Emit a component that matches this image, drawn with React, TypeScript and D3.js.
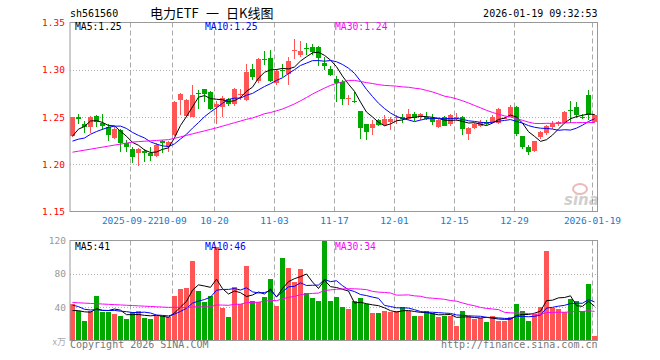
import React from 'react';
import * as d3 from 'd3';

// trading days shown (2025-09-08 .. 2026-01-19)
const dates = [
  '2025-09-08','2025-09-09','2025-09-10','2025-09-11','2025-09-12','2025-09-15','2025-09-16','2025-09-17','2025-09-18','2025-09-19',
  '2025-09-22','2025-09-23','2025-09-24','2025-09-25','2025-09-26','2025-09-29','2025-09-30',
  '2025-10-09','2025-10-10','2025-10-13','2025-10-14','2025-10-15','2025-10-16','2025-10-17','2025-10-20','2025-10-21','2025-10-22',
  '2025-10-23','2025-10-24','2025-10-27','2025-10-28','2025-10-29','2025-10-30','2025-10-31',
  '2025-11-03','2025-11-04','2025-11-05','2025-11-06','2025-11-07','2025-11-10','2025-11-11','2025-11-12','2025-11-13','2025-11-14',
  '2025-11-17','2025-11-18','2025-11-19','2025-11-20','2025-11-21','2025-11-24','2025-11-25','2025-11-26','2025-11-27','2025-11-28',
  '2025-12-01','2025-12-02','2025-12-03','2025-12-04','2025-12-05','2025-12-08','2025-12-09','2025-12-10','2025-12-11','2025-12-12',
  '2025-12-15','2025-12-16','2025-12-17','2025-12-18','2025-12-19','2025-12-22','2025-12-23','2025-12-24','2025-12-25','2025-12-26',
  '2025-12-29','2025-12-30','2025-12-31',
  '2026-01-05','2026-01-06','2026-01-07','2026-01-08','2026-01-09','2026-01-12','2026-01-13','2026-01-14','2026-01-15','2026-01-16','2026-01-19',
];

const openP = [
  1.2297,1.2500,1.2424,1.2396,1.2508,1.2438,1.2396,1.2278,1.2360,1.2220,
  1.2157,1.2121,1.2143,1.2121,1.2086,1.2241,1.2192,1.2311,1.2677,1.2508,
  1.2501,1.2758,1.2793,1.2765,1.2607,1.2607,1.2695,1.2635,1.2730,1.2677,
  1.3012,1.2878,1.3111,1.3128,1.2858,1.2995,1.2950,1.3198,1.3152,1.3225,
  1.3238,1.3236,1.3067,1.3012,1.2906,1.2870,1.2690,1.2674,1.2561,1.2421,
  1.2379,1.2466,1.2413,1.2449,1.2495,1.2505,1.2484,1.2533,1.2498,1.2498,
  1.2490,1.2392,1.2498,1.2424,1.2495,1.2498,1.2315,1.2379,1.2406,1.2448,
  1.2448,1.2440,1.2485,1.2505,1.2607,1.2297,1.2185,1.2138,1.2284,1.2326,
  1.2389,1.2424,1.2438,1.2575,1.2607,1.2505,1.2730,1.2448,
];
const highP = [
  1.2505,1.2537,1.2460,1.2510,1.2520,1.2530,1.2424,1.2396,1.2370,1.2255,
  1.2185,1.2168,1.2157,1.2178,1.2220,1.2255,1.2241,1.2665,1.2758,1.2690,
  1.2835,1.2783,1.2800,1.2775,1.2670,1.2720,1.2705,1.2807,1.2800,1.3060,
  1.3064,1.3125,1.3197,1.3205,1.3010,1.3060,1.3134,1.3321,1.3300,1.3286,
  1.3270,1.3247,1.3134,1.3040,1.2930,1.2890,1.2737,1.2765,1.2561,1.2430,
  1.2466,1.2480,1.2519,1.2500,1.2519,1.2530,1.2582,1.2550,1.2545,1.2554,
  1.2530,1.2480,1.2515,1.2535,1.2547,1.2515,1.2395,1.2440,1.2465,1.2465,
  1.2520,1.2595,1.2500,1.2624,1.2615,1.2300,1.2200,1.2250,1.2350,1.2420,
  1.2460,1.2460,1.2565,1.2667,1.2655,1.2530,1.2783,1.2535,
];
const lowP = [
  1.2290,1.2431,1.2326,1.2326,1.2396,1.2360,1.2248,1.2263,1.2132,1.2132,
  1.2010,1.1985,1.2026,1.2030,1.2080,1.2115,1.2132,1.2300,1.2519,1.2500,
  1.2495,1.2582,1.2659,1.2575,1.2431,1.2500,1.2620,1.2620,1.2677,1.2667,
  1.2888,1.2860,1.3046,1.2870,1.2840,1.2920,1.2843,1.3110,1.3140,1.3152,
  1.3160,1.3039,1.2994,1.2930,1.2659,1.2624,1.2624,1.2650,1.2266,1.2255,
  1.2308,1.2400,1.2400,1.2360,1.2431,1.2440,1.2470,1.2460,1.2470,1.2470,
  1.2420,1.2380,1.2400,1.2410,1.2460,1.2308,1.2255,1.2370,1.2395,1.2420,
  1.2440,1.2430,1.2475,1.2500,1.2300,1.2160,1.2097,1.2130,1.2270,1.2310,
  1.2370,1.2410,1.2430,1.2440,1.2485,1.2480,1.2466,1.2440,
];
const closeP = [
  1.2495,1.2474,1.2390,1.2501,1.2445,1.2403,1.2311,1.2368,1.2220,1.2178,
  1.2079,1.2157,1.2121,1.2086,1.2206,1.2220,1.2234,1.2655,1.2740,1.2677,
  1.2730,1.2745,1.2740,1.2582,1.2642,1.2706,1.2642,1.2793,1.2748,1.2973,
  1.2923,1.3117,1.3103,1.2878,1.2990,1.2983,1.3089,1.3205,1.3194,1.3218,
  1.3187,1.3123,1.3039,1.2948,1.2864,1.2688,1.2698,1.2659,1.2379,1.2337,
  1.2431,1.2413,1.2477,1.2477,1.2502,1.2477,1.2533,1.2490,1.2533,1.2484,
  1.2442,1.2469,1.2406,1.2519,1.2502,1.2371,1.2385,1.2421,1.2442,1.2427,
  1.2500,1.2580,1.2490,1.2607,1.2315,1.2185,1.2125,1.2243,1.2343,1.2403,
  1.2431,1.2448,1.2554,1.2570,1.2519,1.2498,1.2519,1.2526,
];
// volume, 万手
const volume = [
  44,35,23,36,53,34,34,32,29,26,
  34,35,27,26,29,29,28,53,62,63,
  96,60,46,54,112,39,28,64,44,89,
  48,46,52,74,41,99,87,70,86,57,
  51,48,120,47,52,40,38,48,51,44,
  33,33,35,34,36,40,35,29,29,35,
  33,28,30,30,18,35,29,26,27,22,
  30,24,24,28,44,36,24,32,40,107,
  39,38,34,50,48,35,68,5,
];
// sessions before the window, only feeding the moving averages
const priorClose = [
  1.2150,1.2070,1.2180,1.2125,1.2080,1.1990,1.2045,1.1900,1.1855,1.1760,
  1.2000,1.2000,1.1970,1.2080,1.2100,1.2110,1.2250,1.2260,1.2200,1.2250,
  1.2270,1.2270,1.2100,1.2160,1.2166,1.2100,1.2250,1.2210,1.2430,
];
const priorVolume = [
  46,34,47,64,45,45,43,40,37,45,
  46,38,37,40,40,39,50,62,75,71,
  52,55,45,48,44,36,30,38,32,
];

const tickDates = ['2025-09-22','2025-10-09','2025-10-20','2025-11-03','2025-11-17','2025-12-01','2025-12-15','2025-12-29','2026-01-19'];
const tickLabels = ['2025-09-22','10-09','10-20','11-03','11-17','12-01','12-15','12-29','2026-01-19'];
const priceTicks = [1.35, 1.30, 1.25, 1.20, 1.15];
const volTicks = [120, 80, 40];

const RED = '#ff5555';
const GREEN = '#00a800';
const MONO = '"DejaVu Sans Mono", "Liberation Mono", monospace';
const CJK = '"Noto Sans CJK SC", sans-serif';

function movingAvg(prior: number[], vals: number[], n: number) {
  const all = prior.concat(vals);
  const off = prior.length;
  return vals.map((_, i) => d3.mean(all.slice(off + i - n + 1, off + i + 1)) as number);
}

export default function App() {
  const n = closeP.length;
  const left = 70, right = 597.5;
  const x = d3.scaleBand<number>().domain(d3.range(n)).range([70, 597]).paddingInner(1 / 6).paddingOuter(0);
  const cx = (i: number) => (x(i) as number) + 2.5;
  const yP = d3.scaleLinear().domain([1.15, 1.35]).range([211.5, 22.5]);
  const yV = d3.scaleLinear().domain([0, 120]).range([340.5, 240.5]);

  const pMA = [5, 10, 30].map(k => movingAvg(priorClose, closeP, k));
  const vMA = [5, 10, 30].map(k => movingAvg(priorVolume, volume, k));
  const maColors = ['#000000', '#0000ff', '#ff00ff'];

  const lineP = d3.line<number>().x((_, i) => cx(i)).y(d => yP(d));
  const lineV = d3.line<number>().x((_, i) => cx(i)).y(d => yV(d));

  const tickIdx = tickDates.map(d => dates.indexOf(d));
  const last = n - 1;

  return (
    <svg width={660} height={360} style={{ position: 'absolute', left: 0, top: 0, background: '#fff' }}>
      <defs>
        <clipPath id="cp"><rect x={left} y={22.5} width={right - left} height={189} /></clipPath>
        <clipPath id="cv"><rect x={left} y={240.5} width={right - left} height={100} /></clipPath>
      </defs>

      {/* header */}
      <text x={70} y={17} fontFamily={MONO} fontSize={10} fill="#000">sh561560</text>
      <text x={150} y={18} fontFamily={CJK} fontSize={13} fill="#000">电力ETF</text>
      <text x={206} y={18} fontFamily={CJK} fontSize={13} fill="#000">一</text>
      <text x={226} y={18} fontFamily={CJK} fontSize={13} fill="#000">日K线图</text>
      <text x={597.5} y={17} fontFamily={MONO} fontSize={10} fill="#000" textAnchor="end">2026-01-19 09:32:53</text>

      {/* price grid */}
      {priceTicks.slice(1, -1).map(t => (
        <line key={t} x1={left} x2={right} y1={Math.round(yP(t)) + 0.5} y2={Math.round(yP(t)) + 0.5} stroke="#b0b0b0" strokeDasharray="1,2" />
      ))}
      {volTicks.slice(1).map(t => (
        <line key={t} x1={left} x2={right} y1={Math.round(yV(t)) + 0.5} y2={Math.round(yV(t)) + 0.5} stroke="#b0b0b0" strokeDasharray="1,2" />
      ))}
      {tickIdx.map(i => (
        <g key={i}>
          <line x1={(x(i) as number) + 0.5} x2={(x(i) as number) + 0.5} y1={22.5} y2={211.5} stroke="#aaa" strokeDasharray="5,3" />
          <line x1={(x(i) as number) + 0.5} x2={(x(i) as number) + 0.5} y1={240.5} y2={340.5} stroke="#aaa" strokeDasharray="5,3" />
        </g>
      ))}

      {/* candles */}
      <g shapeRendering="crispEdges">
        {closeP.map((c, i) => {
          const o = openP[i];
          const col = c >= o ? RED : GREEN;
          const top = yP(Math.max(o, c));
          const h = Math.max(1, yP(Math.min(o, c)) - top);
          return (
            <g key={i}>
              <line x1={cx(i)} x2={cx(i)} y1={yP(highP[i])} y2={yP(lowP[i])} stroke={col} />
              <rect x={x(i)} y={top} width={x.bandwidth()} height={h} fill={col} />
            </g>
          );
        })}
      </g>
      <g clipPath="url(#cp)" fill="none">
        {pMA.map((s, k) => <path key={k} d={lineP(s) as string} stroke={maColors[k]} strokeWidth={1} />)}
      </g>

      {/* volume bars */}
      <g shapeRendering="crispEdges">
        {volume.map((v, i) => (
          <rect key={i} x={x(i)} y={yV(v)} width={x.bandwidth()} height={yV(0) - yV(v)}
            fill={closeP[i] >= openP[i] ? RED : GREEN} />
        ))}
      </g>
      <g clipPath="url(#cv)" fill="none">
        {vMA.map((s, k) => <path key={k} d={lineV(s) as string} stroke={maColors[k]} strokeWidth={1} />)}
      </g>

      {/* frames */}
      <rect x={left} y={22.5} width={right - left} height={189} fill="none" stroke="#999" />
      <rect x={left} y={240.5} width={right - left} height={100} fill="none" stroke="#999" />

      {/* price axis */}
      {priceTicks.map(t => (
        <text key={t} x={65} y={yP(t) + 3.5} fontFamily={MONO} fontSize={9.5} fill="#ff0000" textAnchor="end">{t.toFixed(2)}</text>
      ))}
      {tickIdx.map((i, k) => (
        <text key={i} x={(x(i) as number) + 0.5} y={224} fontFamily={MONO} fontSize={9.5} fill="#1a78c8" textAnchor="middle">{tickLabels[k]}</text>
      ))}

      {/* volume axis */}
      {volTicks.map(t => (
        <text key={t} x={66} y={yV(t) + 3.5} fontFamily={MONO} fontSize={9.5} fill="#999" textAnchor="end">{t}</text>
      ))}
      <text x={66} y={345} fontFamily={CJK} fontSize={9} fill="#aaa" textAnchor="end">x万</text>

      {/* MA legends */}
      <text x={75} y={30} fontFamily={MONO} fontSize={9.7} fill="#000">MA5:{pMA[0][last].toFixed(2)}</text>
      <text x={205} y={30} fontFamily={MONO} fontSize={9.7} fill="#0000ff">MA10:{pMA[1][last].toFixed(2)}</text>
      <text x={335} y={30} fontFamily={MONO} fontSize={9.7} fill="#ff00ff">MA30:{pMA[2][last].toFixed(2)}</text>
      <text x={75} y={250} fontFamily={MONO} fontSize={9.7} fill="#000">MA5:{Math.floor(vMA[0][last])}</text>
      <text x={205} y={250} fontFamily={MONO} fontSize={9.7} fill="#0000ff">MA10:{Math.floor(vMA[1][last])}</text>
      <text x={335} y={250} fontFamily={MONO} fontSize={9.7} fill="#ff00ff">MA30:{Math.floor(vMA[2][last])}</text>

      {/* sina watermark */}
      <g opacity={0.35}>
        <ellipse cx={580} cy={189} rx={7} ry={5} fill="none" stroke="#c33" strokeWidth={2} />
        <text x={564} y={205} fontFamily='"DejaVu Sans", sans-serif' fontStyle="italic" fontWeight="bold" fontSize={15} fill="#777">sina</text>
      </g>

      {/* footer */}
      <text x={70} y={348} fontFamily={MONO} fontSize={10} fill="#777">Copyright 2026 SINA.COM</text>
      <text x={597.5} y={348} fontFamily={MONO} fontSize={10} fill="#777" textAnchor="end">http://finance.sina.com.cn</text>
    </svg>
  );
}
